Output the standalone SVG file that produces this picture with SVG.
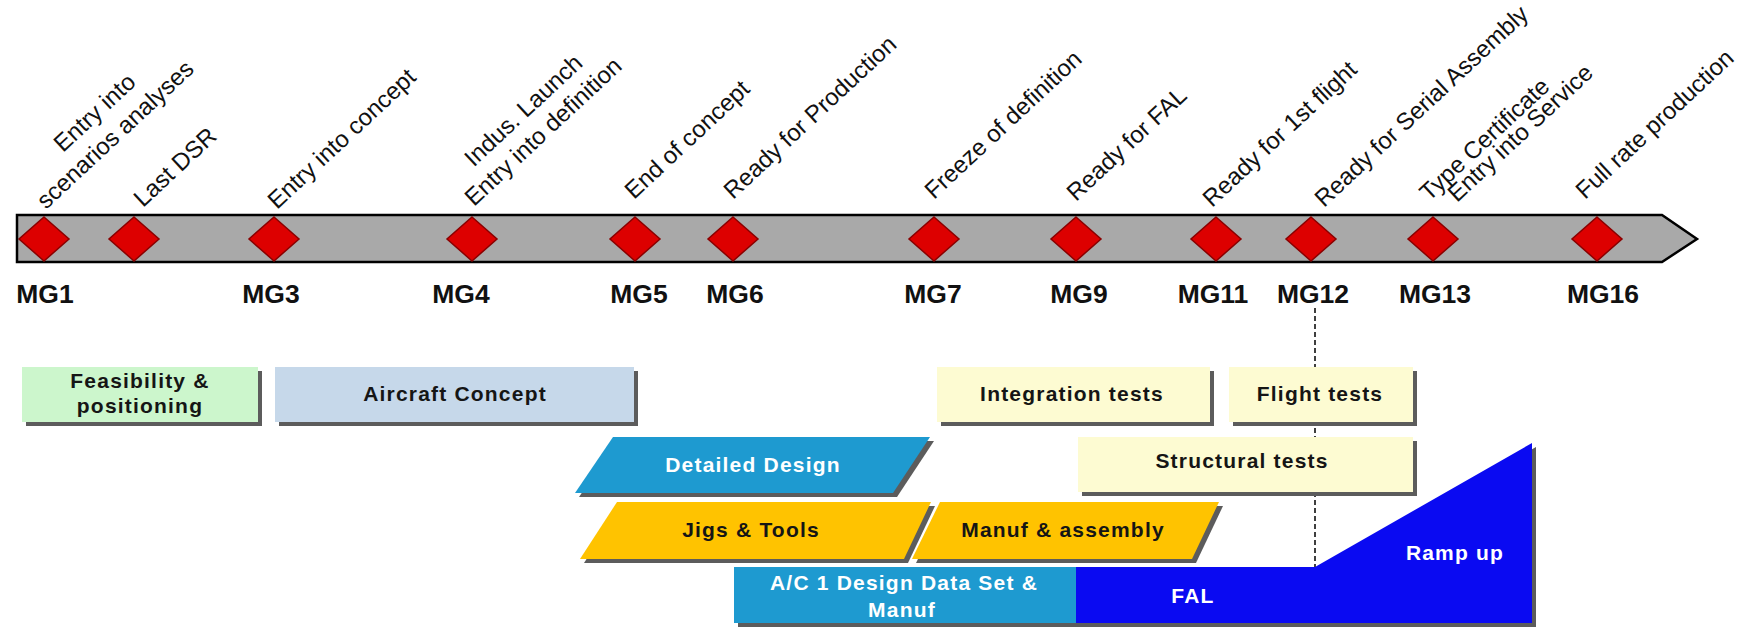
<svg xmlns="http://www.w3.org/2000/svg" width="1742" height="629" viewBox="0 0 1742 629">
<style>
.lbl{font-family:"Liberation Sans",Arial,sans-serif;font-size:24px;fill:#111}
.mg{font-family:"Liberation Sans",Arial,sans-serif;font-size:26.5px;font-weight:bold;fill:#111;text-anchor:middle}
.bx{font-family:"Liberation Sans",Arial,sans-serif;font-size:21px;font-weight:bold;letter-spacing:1.2px;text-anchor:middle;fill:#151515}
.wt{fill:#ffffff}
.dia{fill:#dd0000;stroke:#8a0000;stroke-width:1.5}
.sh{fill:#5c5c5c}
.green{fill:#ccf6cc}
.lblue{fill:#c6d8ea}
.yel{fill:#fdfbd2}
.cyan{fill:#1e9ad0}
.gold{fill:#ffc300}
.blue{fill:#0a0af2}
</style>
<rect width="1742" height="629" fill="#ffffff"/>

<g id="timeline">
<polygon points="17,215 1662,215 1697,239 1662,262 17,262" fill="#a9a9a9" stroke="#000" stroke-width="2.5"/>
</g>

<g id="milestones">
<g id="m1"><polygon class="dia" points="44,217 69,239 44,261 19,239"/>
<g transform="translate(46,210) rotate(-43)"><text class="lbl" x="102" y="-30" text-anchor="middle">Entry into</text><text class="lbl" x="102" y="0" text-anchor="middle">scenarios analyses</text></g>
<text class="mg" x="45" y="303">MG1</text></g>
<g id="m2"><polygon class="dia" points="134,217 159,239 134,261 109,239"/>
<text class="lbl" transform="translate(143,208) rotate(-43)">Last DSR</text></g>
<g id="m3"><polygon class="dia" points="274,217 299,239 274,261 249,239"/>
<text class="lbl" transform="translate(277,210) rotate(-43)">Entry into concept</text>
<text class="mg" x="271" y="303">MG3</text></g>
<g id="m4"><polygon class="dia" points="472,217 497,239 472,261 447,239"/>
<g transform="translate(474,207) rotate(-43)"><text class="lbl" x="102" y="-29" text-anchor="middle">Indus. Launch</text><text class="lbl" x="102" y="0" text-anchor="middle">Entry into definition</text></g>
<text class="mg" x="461" y="303">MG4</text></g>
<g id="m5"><polygon class="dia" points="635,217 660,239 635,261 610,239"/>
<text class="lbl" transform="translate(634,200) rotate(-43)">End of concept</text>
<text class="mg" x="639" y="303">MG5</text></g>
<g id="m6"><polygon class="dia" points="733,217 758,239 733,261 708,239"/>
<text class="lbl" transform="translate(733,200) rotate(-43)">Ready for Production</text>
<text class="mg" x="735" y="303">MG6</text></g>
<g id="m7"><polygon class="dia" points="934,217 959,239 934,261 909,239"/>
<text class="lbl" transform="translate(934,200) rotate(-43)">Freeze of definition</text>
<text class="mg" x="933" y="303">MG7</text></g>
<g id="m9"><polygon class="dia" points="1076,217 1101,239 1076,261 1051,239"/>
<text class="lbl" transform="translate(1076,202) rotate(-43)">Ready for FAL</text>
<text class="mg" x="1079" y="303">MG9</text></g>
<g id="m11"><polygon class="dia" points="1216,217 1241,239 1216,261 1191,239"/>
<text class="lbl" transform="translate(1212,208) rotate(-43)">Ready for 1st flight</text>
<text class="mg" x="1213" y="303">MG11</text></g>
<g id="m12"><polygon class="dia" points="1311,217 1336,239 1311,261 1286,239"/>
<text class="lbl" transform="translate(1324,208) rotate(-43)">Ready for Serial Assembly</text>
<text class="mg" x="1313" y="303">MG12</text></g>
<g id="m13"><polygon class="dia" points="1433,217 1458,239 1433,261 1408,239"/>
<text class="lbl" transform="translate(1429,202) rotate(-43)">Type Certificate</text>
<text class="lbl" transform="translate(1457,203) rotate(-43)">Entry into Service</text>
<text class="mg" x="1435" y="303">MG13</text></g>
<g id="m16"><polygon class="dia" points="1597,217 1622,239 1597,261 1572,239"/>
<text class="lbl" transform="translate(1585,200) rotate(-43)">Full rate production</text>
<text class="mg" x="1603" y="303">MG16</text></g>
</g>

<g id="connectors">
<line x1="1315" y1="308" x2="1315" y2="567" stroke="#000" stroke-width="1.5" stroke-dasharray="5,3"/>
</g>

<g id="feasibility"><rect class="sh" x="26" y="371" width="236" height="55"/><rect class="green" x="22" y="367" width="236" height="55"/>
<text class="bx" x="140" y="388">Feasibility &amp;</text><text class="bx" x="140" y="413">positioning</text></g>
<g id="aircraft-concept"><rect class="sh" x="279" y="371" width="359" height="55"/><rect class="lblue" x="275" y="367" width="359" height="55"/>
<text class="bx" x="455" y="401">Aircraft Concept</text></g>
<g id="integration-tests"><rect class="sh" x="941" y="371" width="273" height="55"/><rect class="yel" x="937" y="367" width="273" height="55"/>
<text class="bx" x="1072" y="401">Integration tests</text></g>
<g id="flight-tests"><rect class="sh" x="1233" y="371" width="184" height="55"/><rect class="yel" x="1229" y="367" width="184" height="55"/>
<text class="bx" x="1320" y="401">Flight tests</text></g>
<g id="structural-tests"><rect class="sh" x="1082" y="441" width="335" height="55"/><rect class="yel" x="1078" y="437" width="335" height="55"/>
<text class="bx" x="1242" y="468">Structural tests</text></g>
<g id="detailed-design"><polygon class="sh" points="617,441 934,441 897,497 579,497"/><polygon class="cyan" points="613,437 930,437 893,493 575,493"/>
<text class="bx wt" x="753" y="472">Detailed Design</text></g>
<g id="jigs-tools"><polygon class="sh" points="621,506 935,506 908,563 584,563"/><polygon class="gold" points="617,502 931,502 904,559 580,559"/>
<text class="bx" x="751" y="537">Jigs &amp; Tools</text></g>
<g id="manuf-assembly"><polygon class="sh" points="944,506 1223,506 1196,563 916,563"/><polygon class="gold" points="940,502 1219,502 1192,559 912,559"/>
<text class="bx" x="1063" y="537">Manuf &amp; assembly</text></g>
<g id="ac1-ddset"><rect class="sh" x="738" y="571" width="342" height="56"/><rect class="cyan" x="734" y="567" width="342" height="56"/>
<text class="bx wt" x="904" y="590">A/C 1 Design Data Set &amp;</text><text class="bx wt" x="902" y="617">Manuf</text></g>
<g id="fal-rampup"><polygon class="sh" points="1080,571 1319,571 1536,447 1536,627 1080,627"/><polygon class="blue" points="1076,567 1315,567 1532,443 1532,623 1076,623"/>
<text class="bx wt" x="1193" y="603">FAL</text><text class="bx wt" x="1455" y="560">Ramp up</text></g>
</svg>
